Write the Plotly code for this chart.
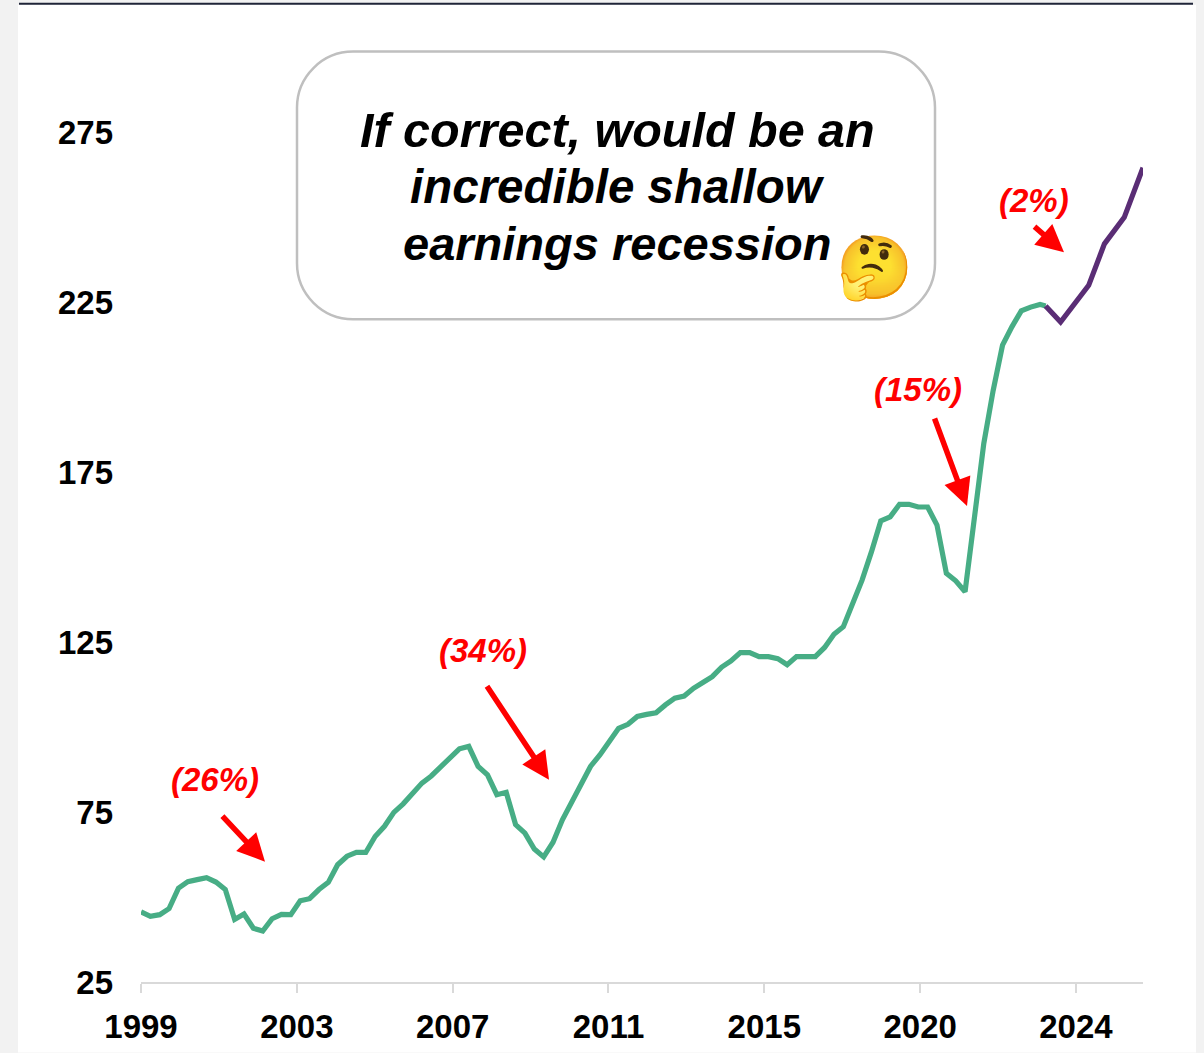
import plotly.graph_objects as go

start_year = 1999
green_values = [45.6, 44.3, 44.8, 46.6, 52.6, 54.5, 55.1, 55.7, 54.4, 52.2,
                43.4, 45.0, 40.8, 40.0, 43.6, 44.9, 44.8, 48.9, 49.5, 52.2,
                54.3, 59.5, 62.0, 63.1, 63.1, 67.8, 70.8, 74.9, 77.4, 80.6,
                83.5, 85.6, 88.4, 91.1, 93.6, 94.3, 88.4, 85.9, 80.1, 80.8,
                71.3, 68.8, 64.1, 61.8, 66.1, 72.7, 78.2, 83.5, 88.4, 91.8,
                95.9, 99.6, 100.8, 103.1, 103.7, 104.2, 106.5, 108.5, 109.1, 111.4,
                113.1, 114.8, 117.6, 119.4, 121.9, 121.9, 120.7, 120.7, 120.1, 118.3,
                120.7, 120.7, 120.7, 123.4, 127.3, 129.5, 136.4, 143.2, 151.5, 160.6,
                161.8, 165.5, 165.5, 164.7, 164.7, 159.4, 145.2, 143.0, 139.8, 162.0,
                183.4, 199.0, 212.3, 217.7, 222.4, 223.5, 224.3]
green_years = [start_year + i / 4 for i in range(len(green_values))] + [2023.15]
green_values = green_values + [223.8]

purple_years = [2023.15, 2023.55, 2024.30, 2024.72, 2025.25, 2025.75]
purple_values = [223.8, 219.1, 229.9, 242.1, 249.9, 264.5]

x_tick_vals = [1999, 2003.16, 2007.32, 2011.48, 2015.64, 2019.80, 2023.96]
x_tick_text = ["1999", "2003", "2007", "2011", "2015", "2020", "2024"]
y_tick_vals = [25, 75, 125, 175, 225, 275]

callout_lines = ["If correct, would be an", "incredible shallow", "earnings recession"]
drop_labels = ["(26%)", "(34%)", "(15%)", "(2%)"]

L, R, T, B = 141, 1143, 131.5, 982.5
W, H = 1204, 1053
FONT = "Liberation Sans"
RED = "#FF0000"


def px(x):
    return (x - L) / (R - L)


def py(y):
    return (B - y) / (B - T)


fig = go.Figure()
fig.add_trace(go.Scatter(x=green_years, y=green_values, mode="lines",
                         line=dict(color="#47AD85", width=5.2), showlegend=False))
fig.add_trace(go.Scatter(x=purple_years, y=purple_values, mode="lines",
                         line=dict(color="#5A2D75", width=5.2), showlegend=False))

# rounded callout outline
x0, x1, y0, y1, r = 297, 935, 51, 319, 56
k = 0.45 * r
pts = [
    ("M", (x0 + r, y0)), ("L", (x1 - r, y0)),
    ("C", (x1 - k, y0), (x1, y0 + k), (x1, y0 + r)), ("L", (x1, y1 - r)),
    ("C", (x1, y1 - k), (x1 - k, y1), (x1 - r, y1)), ("L", (x0 + r, y1)),
    ("C", (x0 + k, y1), (x0, y1 - k), (x0, y1 - r)), ("L", (x0, y0 + r)),
    ("C", (x0, y0 + k), (x0 + k, y0), (x0 + r, y0)),
]
path = " ".join(s[0] + " " + " ".join(f"{px(a):.5f},{py(b):.5f}" for a, b in s[1:]) for s in pts) + " Z"

shapes = [
    dict(type="rect", xref="paper", yref="paper", x0=px(18), x1=px(1196), y0=py(4), y1=py(H),
         fillcolor="white", line_width=0, layer="below"),
    dict(type="line", xref="paper", yref="paper", x0=px(19), x1=px(1193), y0=py(3), y1=py(3),
         line=dict(color="#1F2438", width=2)),
    dict(type="path", xref="paper", yref="paper", path=path, fillcolor="white",
         line=dict(color="#BFBFBF", width=2.5)),
]

annotations = []
for text, cy, size in zip(callout_lines, [129, 186, 243], [48.5, 47.5, 47]):
    annotations.append(dict(xref="paper", yref="paper", x=px(617), y=py(cy), text=f"<b><i>{text}</i></b>",
                            showarrow=False, xanchor="center", yanchor="middle",
                            font=dict(family=FONT, size=size, color="black")))
annotations.append(dict(xref="paper", yref="paper", x=px(874), y=py(267), text="\U0001F914",
                        showarrow=False, xanchor="center", yanchor="middle",
                        font=dict(family="Noto Color Emoji, Noto Sans", size=62, color="#F5B31E")))
for text, cx, cy in zip(drop_labels, [215, 483, 918, 1034], [780, 651, 389, 200]):
    annotations.append(dict(xref="paper", yref="paper", x=px(cx), y=py(cy), text=f"<b><i>{text}</i></b>",
                            showarrow=False, xanchor="center", yanchor="middle",
                            font=dict(family=FONT, size=33, color=RED)))
for (sx, sy), (tx, ty) in [((221, 815), (265, 862)), ((486, 685), (549, 780)),
                           ((934, 417), (967, 506)), ((1033, 225), (1064, 252))]:
    annotations.append(dict(xref="paper", yref="paper", x=px(tx), y=py(ty), ax=sx - tx, ay=sy - ty,
                            axref="pixel", ayref="pixel", text="", showarrow=True, arrowhead=2,
                            arrowsize=1, arrowwidth=5.5, arrowcolor=RED, standoff=0, startstandoff=0))

fig.update_layout(
    width=W, height=H, autosize=False,
    margin=dict(l=L, r=W - R, t=T, b=H - B, pad=0, autoexpand=False),
    paper_bgcolor="#F2F2F2", plot_bgcolor="rgba(0,0,0,0)",
    shapes=shapes, annotations=annotations, showlegend=False,
    xaxis=dict(range=[1999, 2025.75], tickmode="array", tickvals=x_tick_vals, ticktext=x_tick_text,
               showgrid=False, zeroline=False, showline=True, linecolor="#D9D9D9", linewidth=2,
               ticks="outside", ticklen=9, tickwidth=2, tickcolor="#D9D9D9",
               tickfont=dict(family=FONT, size=33, color="black", weight="bold"),
               ticklabelstandoff=5),
    yaxis=dict(range=[25, 275], tickmode="array", tickvals=y_tick_vals,
               showgrid=False, zeroline=False, showline=False, ticks="",
               tickfont=dict(family=FONT, size=33, color="black", weight="bold"),
               ticklabelstandoff=27),
)

fig.write_html("out.html", config={"displayModeBar": False},
               post_script="document.body.style.margin='0';document.documentElement.style.overflow='hidden';")
